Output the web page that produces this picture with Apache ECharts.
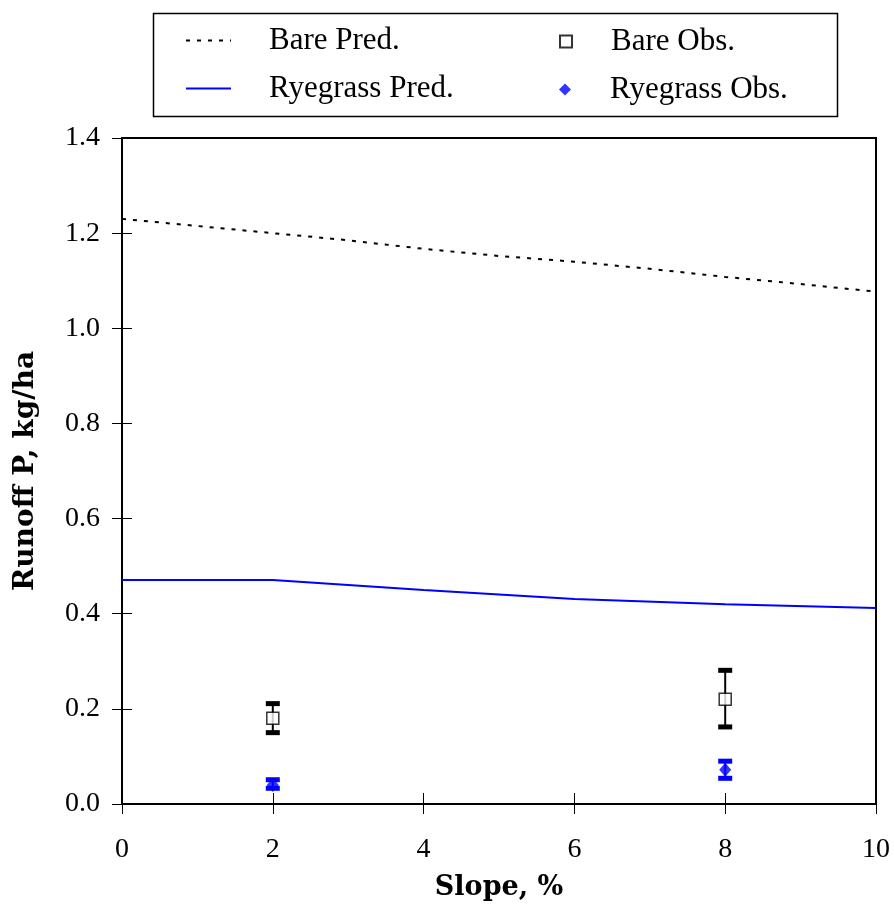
<!DOCTYPE html>
<html>
<head>
<meta charset="utf-8">
<script src="https://cdn.jsdelivr.net/npm/echarts@6/dist/echarts.min.js"></script>
<style>
html,body{margin:0;padding:0;background:#fff;}
#chart{width:894px;height:905px;}
</style>
</head>
<body>
<div id="chart"></div>
<script>
// ---- data ----
var predSlopes = [0, 1, 2, 3, 4, 5, 6, 7, 8, 9, 10];
var barePred = [1.23, 1.215, 1.20, 1.185, 1.167, 1.152, 1.14, 1.125, 1.108, 1.093, 1.077];
var ryePredSlopes = [0, 2, 4, 6, 8, 10];
var ryePred = [0.471, 0.471, 0.45, 0.431, 0.42, 0.412];
var obsSlopes = [2, 8];
var bareObs = [0.18, 0.22];
var bareObsLow = [0.15, 0.162];
var bareObsHigh = [0.211, 0.281];
var ryeObs = [0.04, 0.072];
var ryeObsLow = [0.033, 0.054];
var ryeObsHigh = [0.051, 0.09];
var xTicks = {min: 0, max: 10, step: 2};
var yTicks = {min: 0, max: 1.4, step: 0.2};

function zip(xs, ys){ return xs.map(function(x,i){ return [x, ys[i]]; }); }
function zip3(xs, a, b){ return xs.map(function(x,i){ return [x, a[i], b[i]]; }); }

var serifTick = 'Liberation Serif';
var serifTitle = 'DejaVu Serif';
var BLUE = '#0000ff';

function errRender(color){
  return function(params, api){
    var x = api.value(0), lo = api.value(1), hi = api.value(2);
    var pLo = api.coord([x, lo]), pHi = api.coord([x, hi]);
    var hw = 7, ch = 5;
    return {type:'group', children:[
      {type:'line', shape:{x1:pLo[0], y1:pLo[1], x2:pHi[0], y2:pHi[1]}, style:{stroke:color, lineWidth:2}},
      {type:'rect', shape:{x:pLo[0]-hw, y:pLo[1]-ch/2, width:2*hw, height:ch}, style:{fill:color}},
      {type:'rect', shape:{x:pHi[0]-hw, y:pHi[1]-ch/2, width:2*hw, height:ch}, style:{fill:color}}
    ]};
  };
}

var legendText = {fontFamily: serifTick, fontSize: 31, color: '#000', lineHeight: 30};
function mkLegend(name, left, top, w, h, pad, hideSymbol){
  var l = {
    data: [name], left: left, top: top, padding: 0,
    itemWidth: w, itemHeight: h, selectedMode: false,
    textStyle: Object.assign({padding: [0,0,0,pad]}, legendText)
  };
  if (hideSymbol) l.itemStyle = {color: 'rgba(0,0,0,0)', borderWidth: 0, opacity: 0};
  return l;
}

var chart = echarts.init(document.getElementById('chart'), null, {renderer: 'canvas'});
var option = {
  backgroundColor: '#fff',
  animation: false,
  grid: {left: 122, right: 18, top: 138, bottom: 101, show: true, borderColor: '#000', borderWidth: 2,
         backgroundColor: 'transparent', containLabel: false, outerBoundsMode: 'none'},
  legend: [
    mkLegend('Bare Pred.', 185, 25, 45, 14, 33, true),
    mkLegend('Ryegrass Pred.', 185, 73, 45, 14, 33, true),
    mkLegend('Bare Obs.', 559, 26, 12, 12, 34, false),
    mkLegend('Ryegrass Obs.', 559, 74, 12, 12, 34, false)
  ],
  graphic: [{
    type: 'rect', left: 151, top: 11, shape: {width: 684, height: 103},
    style: {fill: 'none', stroke: '#000', lineWidth: 1.5}, z: 10
  }],
  xAxis: [{
    type: 'value', min: xTicks.min, max: xTicks.max, interval: xTicks.step,
    position: 'bottom',
    axisLine: {show: true, lineStyle: {color: '#000', width: 2}},
    axisTick: {show: true, inside: false, length: 10, lineStyle: {color: '#000', width: 1}},
    axisLabel: {fontFamily: serifTick, fontSize: 28, color: '#000', margin: 32},
    splitLine: {show: false},
    name: 'Slope, %', nameLocation: 'middle', nameGap: 70,
    nameTextStyle: {fontFamily: serifTitle, fontWeight: 'bold', fontSize: 27, color: '#000'}
  }, {
    type: 'value', min: xTicks.min, max: xTicks.max, interval: xTicks.step,
    position: 'bottom',
    axisLine: {show: false},
    axisTick: {show: true, inside: true, length: 11, lineStyle: {color: '#000', width: 1}},
    axisLabel: {show: false}, splitLine: {show: false}
  }],
  yAxis: [{
    type: 'value', min: yTicks.min, max: yTicks.max, interval: yTicks.step,
    position: 'left',
    axisLine: {show: true, lineStyle: {color: '#000', width: 2}},
    axisTick: {show: true, inside: false, length: 10, lineStyle: {color: '#000', width: 1}},
    axisLabel: {fontFamily: serifTick, fontSize: 28, color: '#000', margin: 22,
      formatter: function(v){ return v.toFixed(1); }},
    splitLine: {show: false},
    name: 'Runoff P, kg/ha', nameLocation: 'middle', nameGap: 82, nameRotate: 90,
    nameTextStyle: {fontFamily: serifTitle, fontWeight: 'bold', fontSize: 28, color: '#000'}
  }, {
    type: 'value', min: yTicks.min, max: yTicks.max, interval: yTicks.step,
    position: 'left',
    axisLine: {show: false},
    axisTick: {show: true, inside: true, length: 10, lineStyle: {color: '#000', width: 1}},
    axisLabel: {show: false}, splitLine: {show: false}
  }],
  series: [{
    name: 'Bare Pred.', type: 'line', data: zip(predSlopes, barePred),
    symbol: 'none', showSymbol: false,
    lineStyle: {color: '#000', width: 2, type: [4, 7]}, itemStyle: {color: '#000'}
  }, {
    name: 'Ryegrass Pred.', type: 'line', data: zip(ryePredSlopes, ryePred),
    symbol: 'none', showSymbol: false,
    lineStyle: {color: BLUE, width: 2}, itemStyle: {color: BLUE}
  }, {
    name: 'bareErr', type: 'custom', data: zip3(obsSlopes, bareObsLow, bareObsHigh),
    encode: {x: 0, y: [1, 2]}, renderItem: errRender('#000'), z: 3
  }, {
    name: 'ryeErr', type: 'custom', data: zip3(obsSlopes, ryeObsLow, ryeObsHigh),
    encode: {x: 0, y: [1, 2]}, renderItem: errRender(BLUE), z: 3
  }, {
    name: 'Bare Obs.', type: 'scatter', data: zip(obsSlopes, bareObs),
    symbol: 'rect', symbolSize: 12, z: 5,
    itemStyle: {color: '#fff', borderColor: '#000', borderWidth: 1.5}
  }, {
    name: 'Ryegrass Obs.', type: 'scatter', data: zip(obsSlopes, ryeObs),
    symbol: 'diamond', symbolSize: [12, 14], z: 5,
    itemStyle: {color: BLUE}
  }]
};
chart.setOption(option);
</script>
</body>
</html>
